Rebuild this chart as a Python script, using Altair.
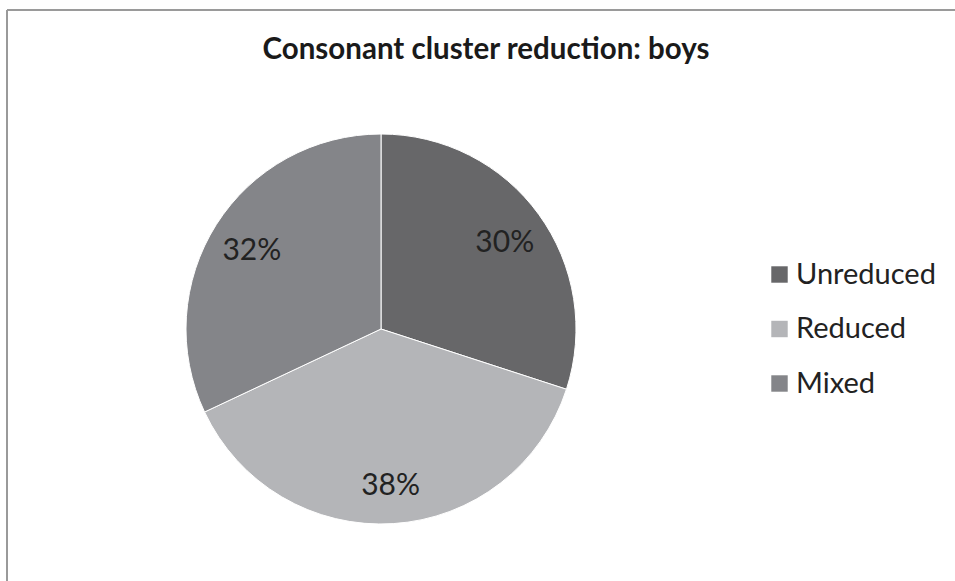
import altair as alt
import pandas as pd

# Share of consonant clusters by outcome (boys)
categories = ["Unreduced", "Reduced", "Mixed"]
shares = [30, 38, 32]
slice_colors = ["#676769", "#b4b5b8", "#848589"]
chart_title = "Consonant cluster reduction: boys"

df = pd.DataFrame({
    "category": categories,
    "share": shares,
    "order": list(range(len(categories))),
    "label": [f"{v}%" for v in shares],
})

W, H = 955, 581
CX, CY, R = 381, 329, 195
FONT = "Lato"

base = alt.Chart(df).encode(
    theta=alt.Theta("share:Q", stack=True),
    order=alt.Order("order:Q"),
    x=alt.value(CX),
    y=alt.value(CY),
)

pie = base.mark_arc(outerRadius=R, stroke="white", strokeWidth=1).encode(
    color=alt.Color(
        "category:N",
        scale=alt.Scale(domain=categories, range=slice_colors),
        sort=categories,
        legend=alt.Legend(
            title=None,
            orient="none",
            legendX=765,
            legendY=260,
            symbolType="square",
            symbolSize=270,
            symbolStrokeWidth=0,
            labelFont=FONT,
            labelFontSize=29,
            labelColor="#222222",
            labelOffset=2,
            rowPadding=24.5,
        ),
    )
)

labels = base.mark_text(
    radius=153, font=FONT, fontSize=30, color="#222222", dy=4
).encode(text="label:N")

title = alt.Chart(pd.DataFrame({"t": [chart_title]})).mark_text(
    font=FONT, fontSize=29.5, fontWeight="bold", color="#1a1a1a",
    align="center", baseline="alphabetic",
).encode(text="t:N", x=alt.value(486), y=alt.value(59))

frame_df = pd.DataFrame({"k": [0]})
frame_top = alt.Chart(frame_df).mark_rule(color="#9a9a9a", strokeWidth=2).encode(
    x=alt.value(7), x2=alt.value(W), y=alt.value(10)
)
frame_left = alt.Chart(frame_df).mark_rule(color="#9a9a9a", strokeWidth=2).encode(
    x=alt.value(7), y=alt.value(10), y2=alt.value(H)
)

chart = alt.layer(frame_top, frame_left, pie, labels, title).properties(
    width=W, height=H, autosize="none", padding=0, background="white"
).configure_view(stroke=None)

chart.save("out.html", embed_options={"renderer": "svg", "actions": False})
